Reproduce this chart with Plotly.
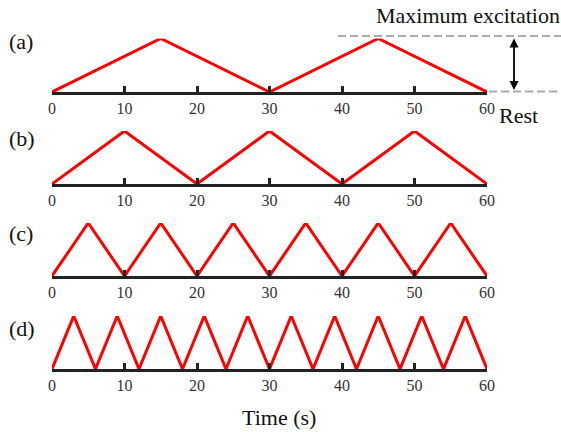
import plotly.graph_objects as go

# Data: triangle-wave vertices (time in s, normalized excitation)
a_t = [0, 15, 30, 45, 60]
a_v = [0, 1, 0, 1, 0]
b_t = [0, 10, 20, 30, 40, 50, 60]
b_v = [0, 1, 0, 1, 0, 1, 0]
c_t = [0, 5, 10, 15, 20, 25, 30, 35, 40, 45, 50, 55, 60]
c_v = [0, 1, 0, 1, 0, 1, 0, 1, 0, 1, 0, 1, 0]
d_t = [0, 3, 6, 9, 12, 15, 18, 21, 24, 27, 30, 33, 36, 39, 42, 45, 48, 51, 54, 57, 60]
d_v = [0, 1, 0, 1, 0, 1, 0, 1, 0, 1, 0, 1, 0, 1, 0, 1, 0, 1, 0, 1, 0]
panel_labels = ["(a)", "(b)", "(c)", "(d)"]
tick_vals = [0, 10, 20, 30, 40, 50, 60]
tick_text = ["0", "10", "20", "30", "40", "50", "60"]

W, H = 561, 432
ML, MR = 52, 74
PW = W - ML - MR

def py(pix):
    return 1 - pix / H

def px(pix):
    return (pix - ML) / PW

# baseline / peak pixel rows per panel, and label row
rows = [(92, 38.5), (184, 131), (276, 223), (369, 316)]
label_rows = [41.5, 138.5, 233, 328.5]
series = [(a_t, a_v), (b_t, b_v), (c_t, c_v), (d_t, d_v)]

fig = go.Figure()
FONT = "Liberation Serif, Times New Roman, serif"
for i, ((t, v), (base, peak)) in enumerate(zip(series, rows)):
    n = "" if i == 0 else str(i + 1)
    fig.add_trace(go.Scatter(x=t, y=v, mode="lines", xaxis="x" + n, yaxis="y" + n,
                             line=dict(color="#ff0000", width=3), cliponaxis=False,
                             showlegend=False, hoverinfo="skip"))
    fig.layout["xaxis" + n] = dict(
        domain=[0, 1], range=[0, 60], anchor="y" + n, showgrid=False, zeroline=False,
        showline=True, linecolor="#222222", linewidth=3, ticks="inside", ticklen=6,
        tickwidth=3, tickcolor="#222222", tickvals=tick_vals, ticktext=tick_text,
        tickfont=dict(family=FONT, size=16, color="#333333"), fixedrange=True,
        automargin=False)
    fig.layout["yaxis" + n] = dict(
        domain=[py(base), py(peak)], range=[0, 1], anchor="x" + n, visible=False,
        fixedrange=True, automargin=False)
    fig.add_annotation(x=px(7), y=py(label_rows[i]), xref="paper", yref="paper",
                       text=panel_labels[i], showarrow=False, xanchor="left",
                       yanchor="middle", font=dict(family=FONT, size=22, color="#111111"))

# Dashed reference lines
for x_start, yy in ((338, 36), (489, 91.5)):
    fig.add_shape(type="line", xref="paper", yref="paper", x0=px(x_start), x1=px(561),
                  y0=py(yy), y1=py(yy), line=dict(color="#aaaaaa", width=2, dash="8px,4px"),
                  layer="below")

# Double-headed arrow
fig.add_annotation(x=px(514), y=py(90), ax=0, ay=-53, xref="paper", yref="paper",
                   axref="pixel", ayref="pixel", showarrow=True, arrowhead=2, startarrowhead=2,
                   arrowside="end+start", arrowwidth=1.8, arrowsize=1, startarrowsize=1,
                   arrowcolor="#000000", text="")

fig.add_annotation(x=px(562), y=py(15.5), xref="paper", yref="paper", text="Maximum excitation",
                   showarrow=False, xanchor="right", yanchor="middle",
                   font=dict(family=FONT, size=22, color="#111111"))
fig.add_annotation(x=px(518.5), y=py(115), xref="paper", yref="paper", text="Rest",
                   showarrow=False, xanchor="center", yanchor="middle",
                   font=dict(family=FONT, size=22, color="#111111"))
fig.add_annotation(x=px(279), y=py(417), xref="paper", yref="paper", text="Time (s)",
                   showarrow=False, xanchor="center", yanchor="middle",
                   font=dict(family=FONT, size=22, color="#111111"))

fig.update_layout(width=W, height=H, margin=dict(l=ML, r=MR, t=0, b=0, autoexpand=False),
                  plot_bgcolor="white", paper_bgcolor="white")
fig.write_html("out.html", config={"displayModeBar": False},
               post_script="document.body.style.margin='0';")
